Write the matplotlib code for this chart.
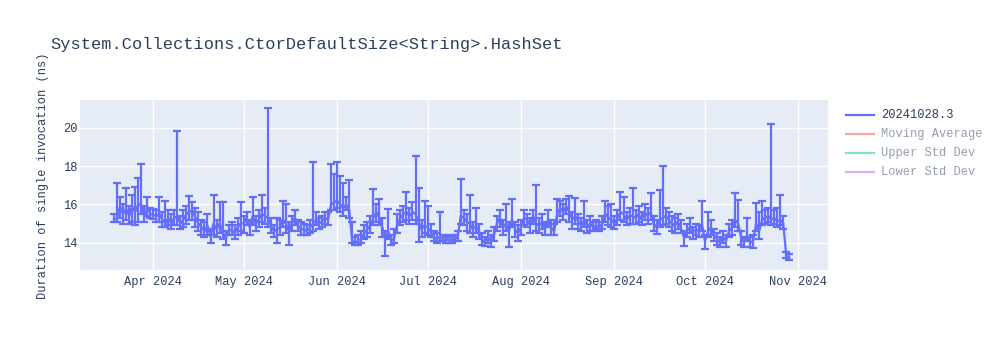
import numpy as np
import pandas as pd
import matplotlib
matplotlib.use("Agg")
import matplotlib.pyplot as plt
import matplotlib.dates as mdates
from matplotlib.lines import Line2D

# ---------------- data ----------------
title = "System.Collections.CtorDefaultSize<String>.HashSet"
y_label = "Duration of single invocation (ns)"
series_name = "20241028.3"
legend_names = ["20241028.3", "Moving Average", "Upper Std Dev", "Lower Std Dev"]

month_starts = ["2024-03-19", "2024-04-01", "2024-05-01", "2024-06-01",
                "2024-07-01", "2024-08-01", "2024-09-01", "2024-10-01"]

val_mar = [15.2, 15.3, 15.9, 15.5, 15.8, 15.4, 15.9, 15.6, 16.0, 16.0, 15.4, 15.9, 15.5]
up_mar = [0.3, 1.8, 0.5, 0.5, 1.05, 0.5, 0.6, 1.3, 1.4, 2.1, 0.5, 0.5, 0.3]
dn_mar = [0.1, 0.2, 0.6, 0.5, 0.6, 0.4, 0.8, 0.7, 0.9, 0.5, 0.3, 0.5, 0.2]

val_apr = [15.45, 15.4, 15.5, 15.2, 15.0, 15.3, 15.0, 15.3, 15.4, 15.0, 15.2, 15.5, 15.6, 15.7, 15.3,
           15.0, 14.8, 14.6, 14.9, 14.3, 15.0, 14.7, 15.0, 14.6, 14.2, 14.6, 14.7, 14.5, 14.8, 15.0]
up_apr = [0.3, 0.3, 0.9, 0.4, 1.2, 0.4, 0.5, 0.4, 4.4, 0.4, 0.5, 0.4, 0.85, 0.4, 0.5,
          0.6, 0.4, 0.5, 0.6, 0.4, 1.5, 0.5, 1.1, 1.55, 0.4, 0.3, 0.4, 0.4, 0.5, 1.1]
dn_apr = [0.2, 0.3, 0.4, 0.4, 0.2, 0.4, 0.3, 0.4, 0.5, 0.3, 0.4, 0.5, 0.4, 0.5, 0.5,
          0.4, 0.4, 0.3, 0.5, 0.3, 0.6, 0.4, 0.5, 0.4, 0.3, 0.2, 0.3, 0.3, 0.4, 0.4]

val_may = [15.0, 15.3, 14.8, 15.4, 15.0, 15.2, 15.5, 15.4, 15.3, 14.9, 14.6, 14.7, 14.8, 15.2, 15.0,
           14.6, 15.0, 15.3, 14.9, 14.7, 14.7, 14.6, 14.8, 15.0, 15.2, 15.0, 15.1, 15.3, 15.2, 16.0, 16.1]
up_may = [0.4, 0.3, 0.4, 1.0, 0.4, 0.5, 1.0, 0.4, 5.7, 0.4, 0.3, 0.6, 0.4, 1.0, 1.0,
          0.5, 0.4, 0.4, 0.3, 0.4, 0.3, 0.3, 0.4, 3.2, 0.4, 0.3, 0.3, 0.3, 0.4, 2.1, 1.5]
dn_may = [0.5, 0.4, 0.4, 0.5, 0.4, 0.4, 0.4, 0.4, 0.5, 0.4, 0.3, 0.7, 0.4, 0.4, 0.5,
          0.7, 0.4, 0.4, 0.3, 0.3, 0.3, 0.2, 0.3, 0.4, 0.3, 0.3, 0.3, 0.3, 0.3, 0.3, 0.4]

val_jun = [16.2, 16.0, 15.8, 16.0, 15.7, 14.1, 14.0, 14.1, 14.2, 14.5, 14.7, 14.9, 15.3, 15.6, 15.3,
           14.8, 14.2, 14.6, 14.1, 14.3, 15.0, 15.3, 15.5, 15.6, 15.4, 15.6, 15.5, 15.1, 14.7, 14.9]
up_jun = [2.0, 1.5, 1.3, 0.4, 1.55, 1.0, 0.3, 0.3, 0.4, 0.4, 0.4, 0.5, 1.5, 0.4, 1.0,
          0.5, 0.4, 1.15, 0.3, 0.4, 0.5, 0.4, 0.4, 1.05, 0.4, 0.5, 3.0, 1.75, 0.5, 1.3]
dn_jun = [0.4, 0.4, 0.4, 0.3, 0.4, 0.1, 0.1, 0.2, 0.2, 0.3, 0.4, 0.4, 0.4, 0.5, 0.4,
          0.5, 0.9, 0.4, 0.2, 0.3, 0.5, 0.4, 0.4, 0.4, 0.4, 0.4, 0.5, 1.05, 0.4, 0.4]

val_jul = [14.8, 14.6, 14.3, 14.2, 14.3, 14.2, 14.1, 14.2, 14.1, 14.2, 14.3, 15.4, 15.3, 15.1, 15.0,
           14.7, 14.9, 14.6, 14.2, 14.0, 14.3, 14.1, 14.4, 15.0, 15.3, 14.8, 15.0, 14.6, 15.2, 14.7, 14.5]
up_jul = [1.1, 0.4, 0.3, 0.3, 1.3, 0.2, 0.2, 0.2, 0.2, 0.2, 0.3, 1.9, 0.4, 0.4, 1.5,
          0.4, 0.9, 0.4, 0.3, 0.3, 0.3, 0.3, 0.4, 0.4, 0.4, 0.4, 1.0, 0.5, 1.1, 0.4, 0.4]
dn_jul = [0.4, 0.3, 0.2, 0.2, 0.2, 0.1, 0.1, 0.2, 0.1, 0.1, 0.2, 0.4, 0.4, 0.5, 0.5,
          0.4, 0.4, 0.4, 0.3, 0.15, 0.3, 0.3, 0.3, 0.4, 0.5, 0.4, 0.4, 0.8, 0.4, 0.4, 0.4]

val_aug = [14.8, 15.3, 15.2, 14.9, 15.4, 15.0, 14.9, 15.1, 14.7, 15.2, 14.8, 14.6, 15.5, 15.8, 15.6,
           15.9, 15.6, 15.2, 15.4, 15.1, 14.9, 15.2, 14.8, 15.0, 14.8, 14.9, 14.8, 15.0, 15.5, 15.3, 15.2]
up_aug = [0.4, 0.4, 0.3, 0.4, 0.3, 2.0, 0.4, 0.4, 0.4, 0.5, 0.4, 0.4, 0.8, 0.4, 0.4,
          0.4, 0.85, 0.4, 0.95, 0.4, 0.4, 1.0, 0.4, 0.4, 0.3, 0.3, 0.3, 0.4, 0.7, 0.6, 0.8]
dn_aug = [0.4, 0.4, 0.4, 0.4, 0.4, 0.4, 0.4, 0.4, 0.3, 0.4, 0.4, 0.2, 0.4, 0.4, 0.4,
          0.4, 0.5, 0.5, 0.4, 0.4, 0.3, 0.4, 0.3, 0.4, 0.2, 0.2, 0.2, 0.3, 0.4, 0.4, 0.4]

val_sep = [15.0, 15.3, 15.6, 15.5, 15.2, 15.4, 15.4, 15.3, 15.5, 15.2, 15.6, 15.4, 15.6, 15.0, 14.8,
           15.2, 15.3, 15.4, 15.2, 15.0, 14.9, 15.1, 14.8, 14.3, 14.6, 14.8, 14.5, 14.7, 14.6, 15.0]
up_sep = [0.4, 0.4, 1.05, 0.9, 0.4, 0.4, 1.45, 0.4, 0.4, 0.4, 0.4, 0.4, 1.0, 0.4, 0.4,
          1.55, 2.7, 0.4, 0.4, 0.4, 0.4, 0.4, 0.4, 0.3, 0.4, 0.5, 0.3, 0.3, 0.3, 1.2]
dn_sep = [0.3, 0.4, 0.4, 0.4, 0.3, 0.4, 0.4, 0.3, 0.4, 0.3, 0.4, 0.4, 0.4, 0.4, 0.35,
          0.4, 0.4, 0.4, 0.4, 0.4, 0.4, 0.4, 0.3, 0.45, 0.3, 0.3, 0.3, 0.3, 0.3, 0.4]

val_oct = [14.1, 14.6, 14.8, 14.4, 14.2, 14.0, 14.3, 14.1, 14.6, 14.8, 15.2, 15.0, 14.3, 14.0, 14.4,
           14.0, 14.1, 15.0, 14.6, 15.2, 15.3, 15.4, 15.2, 15.3, 15.1, 15.2, 15.0, 13.3, 13.2]
up_oct = [0.3, 1.0, 0.4, 0.3, 0.3, 0.3, 0.3, 0.3, 0.4, 0.4, 1.4, 1.25, 0.3, 0.3, 0.9,
          0.3, 0.3, 1.05, 1.0, 1.0, 0.4, 0.4, 5.0, 0.4, 0.7, 1.3, 0.4, 0.2, 0.2]
dn_oct = [0.4, 0.3, 0.4, 0.3, 0.3, 0.2, 0.3, 0.3, 0.3, 0.4, 0.4, 0.4, 0.4, 0.2, 0.3,
          0.2, 0.35, 0.4, 0.4, 0.3, 0.3, 0.3, 0.3, 0.3, 0.3, 0.3, 0.3, 0.1, 0.1]

y_ticks = [14, 16, 18, 20]
x_ticks = ["2024-04-01", "2024-05-01", "2024-06-01", "2024-07-01",
           "2024-08-01", "2024-09-01", "2024-10-01", "2024-11-01"]

# ---------------- assemble ----------------
vals_by_month = [val_mar, val_apr, val_may, val_jun, val_jul, val_aug, val_sep, val_oct]
ups_by_month = [up_mar, up_apr, up_may, up_jun, up_jul, up_aug, up_sep, up_oct]
dns_by_month = [dn_mar, dn_apr, dn_may, dn_jun, dn_jul, dn_aug, dn_sep, dn_oct]

dates, vals, ups, dns = [], [], [], []
for start, v, u, d in zip(month_starts, vals_by_month, ups_by_month, dns_by_month):
    n = min(len(v), len(u), len(d))
    dates.extend(pd.date_range(start, periods=n, freq="D"))
    vals.extend(v[:n]); ups.extend(u[:n]); dns.extend(d[:n])

dates = pd.to_datetime(dates)
vals = np.array(vals); ups = np.array(ups); dns = np.array(dns)

# ---------------- style ----------------
FONT = ["Liberation Mono", "DejaVu Sans Mono"]
TXT = "#2a3f5f"
BLUE = "#636efa"
plt.rcParams["font.family"] = FONT

fig = plt.figure(figsize=(10, 3.5), dpi=100)
fig.patch.set_facecolor("white")
ax = fig.add_axes([0.080, 1 - 270 / 350, 0.748, 170 / 350])
ax.set_facecolor("#e5ecf6")

ax.errorbar(dates, vals, yerr=[dns, ups], fmt="-", color=BLUE, lw=1.6,
            elinewidth=1.6, capsize=3.2, capthick=1.6, zorder=3)

ax.set_xlim(pd.Timestamp("2024-03-07 17:00"), pd.Timestamp("2024-11-10 20:00"))
ax.set_ylim(12.58, 21.44)

ax.set_xticks(pd.to_datetime(x_ticks))
ax.xaxis.set_major_formatter(mdates.DateFormatter("%b %Y"))
ax.set_yticks(y_ticks)
ax.grid(True, color="white", lw=1.0, zorder=0)
ax.set_axisbelow(True)
for s in ax.spines.values():
    s.set_visible(False)
ax.tick_params(axis="both", length=0, labelsize=8.64, colors=TXT)
ax.tick_params(axis="x", pad=4)
ax.tick_params(axis="y", pad=2)

ax.set_ylabel(y_label, fontsize=8.64, color=TXT)
ax.yaxis.set_label_coords(-0.042, 0.553)

fig.text(0.050, 1 - 45 / 350, title, fontsize=12.24, color=TXT,
         ha="left", va="center")

# ---------------- legend ----------------
leg_colors = [BLUE, "#EF553B", "#00cc96", "#ab63fa"]
leg_alpha = [1.0, 0.5, 0.5, 0.5]
rows = [115, 134, 153, 172]
for name, c, a, ry in zip(legend_names, leg_colors, leg_alpha, rows):
    yf = 1 - ry / 350
    fig.add_artist(Line2D([846 / 1000, 874 / 1000], [yf, yf], color=c, lw=1.6, alpha=a))
    fig.text(881 / 1000, yf, name, fontsize=8.64, color=TXT, alpha=a,
             ha="left", va="center")

fig.savefig("out.png", dpi=100)
